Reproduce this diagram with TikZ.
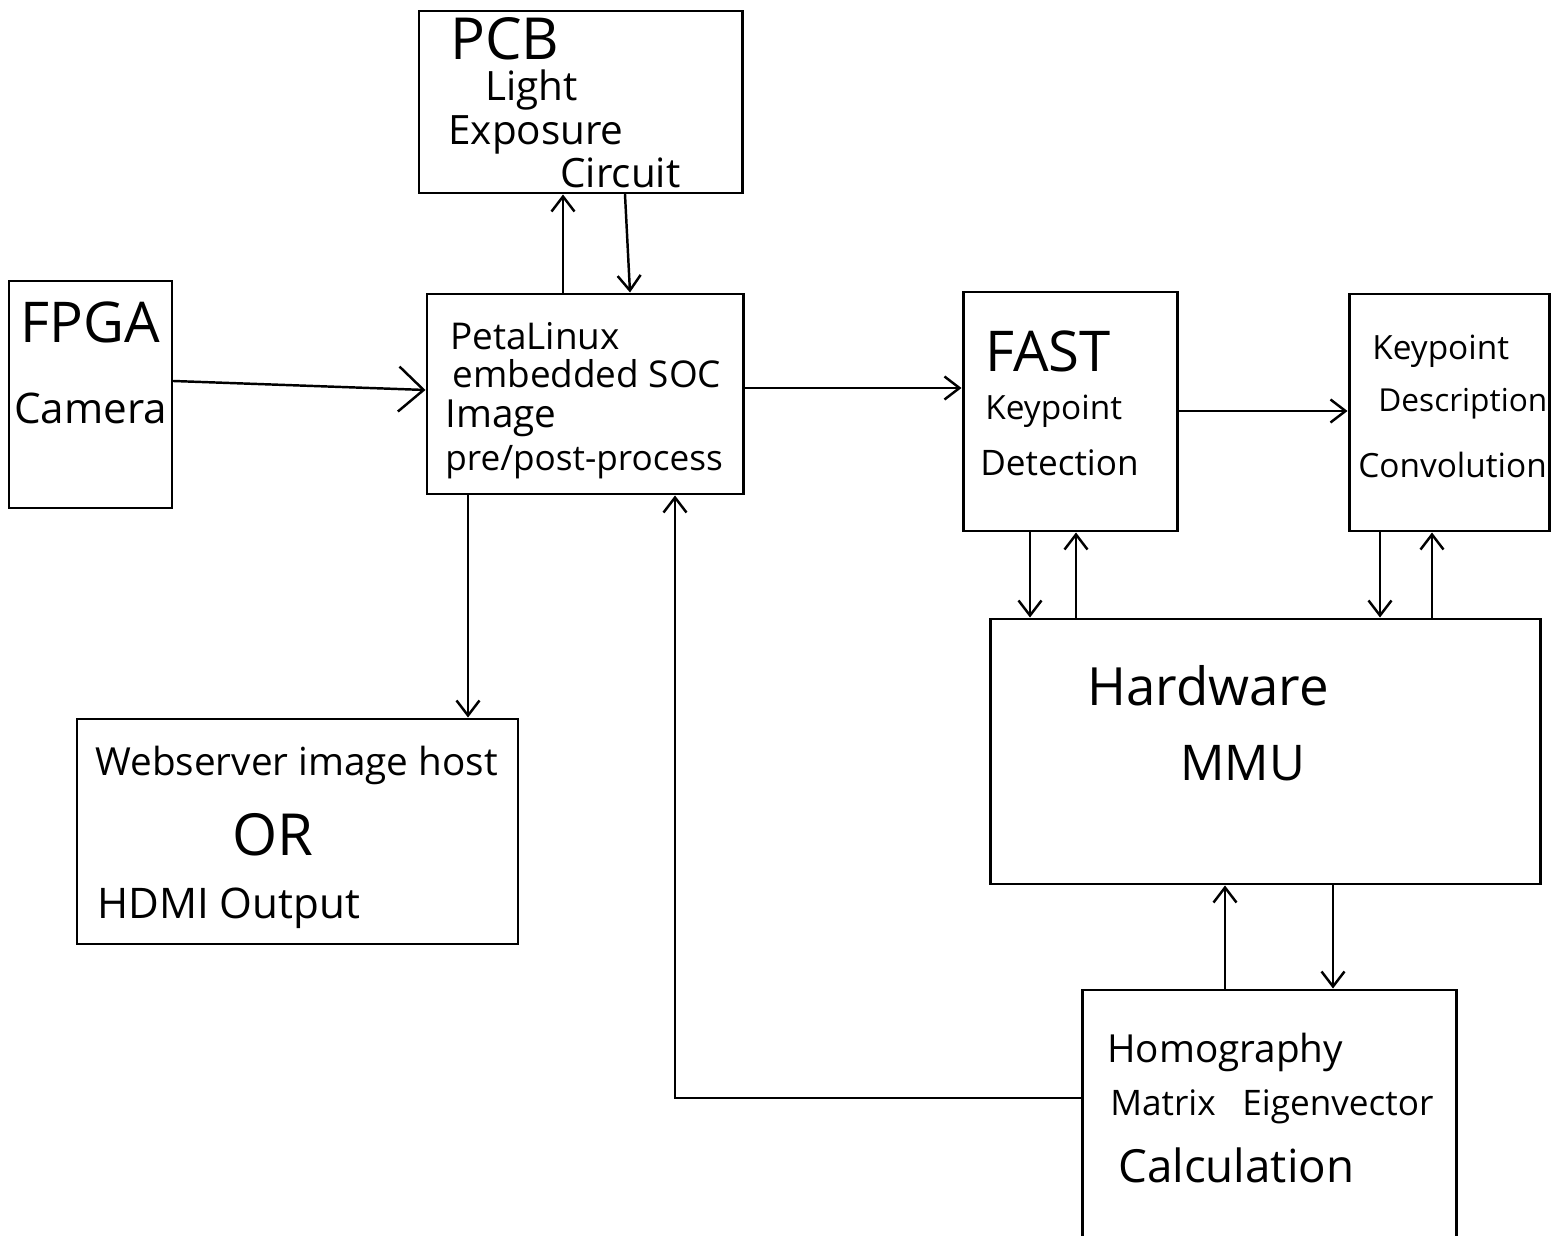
\documentclass[tikz,border=0pt]{standalone}
\usepackage{fontspec}
\setmainfont{Open Sans}
\usepackage{tikz}
\usetikzlibrary{arrows.meta, calc, positioning}
\def\pxu{0.2mm}
\tikzset{
	blockbox/.style={draw, line width=1.7pt, inner sep=0pt}
}
\tikzset{
	handtext/.style={font=\fontsize{#1}{#1}\selectfont, anchor=base west, inner sep=0pt}
}
\tikzset{
	flowarrow/.style={line width=1.4pt, line cap=round, -{Straight Barb[length=3mm,width=4.6mm,line width=1.4pt]}}
}

\begin{document}
\begin{tikzpicture}[x=\pxu, y=-\pxu]
      \useasboundingbox (0,0) rectangle (1559,1236);
      % blocks
      \node[blockbox, minimum width=323*\pxu, minimum height=182*\pxu] (pcb) at (580.5,102) {};
      \node[blockbox, minimum width=163*\pxu, minimum height=227*\pxu] (fpga) at (90.5,394.5) {};
      \node[blockbox, minimum width=316*\pxu, minimum height=200*\pxu] (soc) at (585,394) {};
      \node[blockbox, minimum width=214*\pxu, minimum height=239*\pxu] (fast) at (1070,411.5) {};
      \node[blockbox, minimum width=200*\pxu, minimum height=237*\pxu] (desc) at (1449,412.5) {};
      \node[blockbox, minimum width=550*\pxu, minimum height=265*\pxu] (mmu) at (1265,751.5) {};
      \node[blockbox, minimum width=374*\pxu, minimum height=270*\pxu] (homog) at (1269,1125) {};
      \node[blockbox, minimum width=441*\pxu, minimum height=225*\pxu] (web) at (297.5,831.5) {};
      % texts
      \node[handtext=33] (pcbA) at (450,60) {PCB};
      \node[handtext=23] (pcbB) at (485,101) {Light};
      \node[handtext=23] (pcbC) at (448,145) {Exposure};
      \node[handtext=23] (pcbD) at (560,188) {Circuit};
      \node[handtext=32] (fpgaA) at (20,343) {FPGA};
      \node[handtext=24] (fpgaB) at (14,424) {Camera};
      \node[handtext=21] (socA) at (450,350) {PetaLinux};
      \node[handtext=21] (socB) at (452,388) {embedded SOC};
      \node[handtext=22] (socC) at (445,428) {Image};
      \node[handtext=20] (socD) at (445,470) {pre/post-process};
      \node[handtext=32] (fastA) at (985,372) {FAST};
      \node[handtext=19] (fastB) at (985,420) {Keypoint};
      \node[handtext=20] (fastC) at (980,475) {Detection};
      \node[handtext=19] (descA) at (1372,360) {Keypoint};
      \node[handtext=18] (descB) at (1378,412) {Description};
      \node[handtext=19] (descC) at (1358,478) {Convolution};
      \node[handtext=30] (mmuA) at (1087,705) {Hardware};
      \node[handtext=28] (mmuB) at (1180,780) {MMU};
      \node[handtext=22] (webA) at (95,775) {Webserver image host};
      \node[handtext=33] (webB) at (232,855) {OR};
      \node[handtext=24] (webC) at (97,918) {HDMI Output};
      \node[handtext=22] (homogA) at (1107,1062) {Homography};
      \node[handtext=20] (homogB) at (1110,1115) {Matrix\hspace{0.5em} Eigenvector};
      \node[handtext=26] (homogC) at (1118,1182) {Calculation};
      % connectors
      \draw[flowarrow, -{Straight Barb[length=5mm,width=9mm,line width=1.4pt]}] (fpga.east |- 0,381) -- (soc.west |- 0,390);
      \draw[flowarrow] (soc.north -| 563,0) -- (pcb.south -| 563,0);
      \draw[flowarrow] (pcb.south -| 625,0) -- (soc.north -| 630,0);
      \draw[flowarrow] (soc.south -| 468,0) -- (web.north -| 468,0);
      \draw[flowarrow] (soc.east |- 0,388) -- (fast.west |- 0,388);
      \draw[flowarrow] (fast.east |- 0,411) -- (desc.west |- 0,411);
      \draw[flowarrow] (fast.south -| 1030,0) -- (mmu.north -| 1030,0);
      \draw[flowarrow] (mmu.north -| 1076,0) -- (fast.south -| 1076,0);
      \draw[flowarrow] (desc.south -| 1380,0) -- (mmu.north -| 1380,0);
      \draw[flowarrow] (mmu.north -| 1432,0) -- (desc.south -| 1432,0);
      \draw[flowarrow] (homog.north -| 1225,0) -- (mmu.south -| 1225,0);
      \draw[flowarrow] (mmu.south -| 1333,0) -- (homog.north -| 1333,0);
      \draw[flowarrow] (homog.west |- 0,1098) -| (soc.south -| 675,0);
    \end{tikzpicture}
\end{document}
